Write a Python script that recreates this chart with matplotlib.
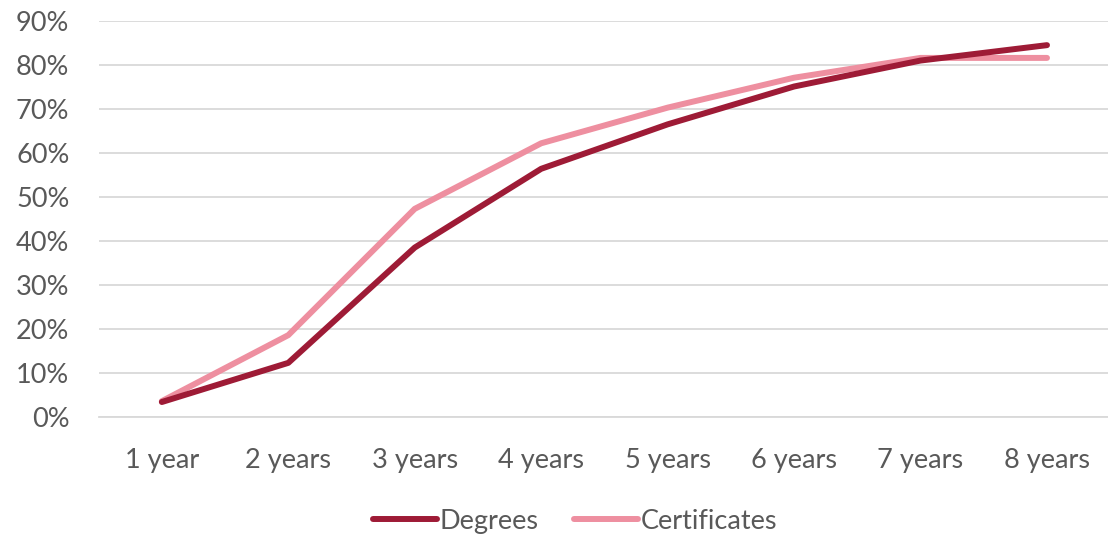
import matplotlib.pyplot as plt
from matplotlib.ticker import PercentFormatter

# values
years = ["1 year", "2 years", "3 years", "4 years", "5 years", "6 years", "7 years", "8 years"]
degrees = [3.4, 12.3, 38.5, 56.4, 66.5, 75.1, 81.0, 84.5]
certificates = [3.6, 18.6, 47.3, 62.2, 70.3, 77.1, 81.6, 81.6]

plt.rcParams['font.family'] = ['Lato', 'DejaVu Sans']
text_col = '#595959'
fs = 19.5

fig = plt.figure(figsize=(11.08, 5.37), dpi=100)
ax = fig.add_axes([0.089, 0.2235, 0.913, 0.7375])

x = list(range(len(years)))
ax.plot(x, degrees, color='#9E1B36', lw=4.3, solid_capstyle='round', label='Degrees', zorder=3)
ax.plot(x, certificates, color='#EE8FA0', lw=4.3, solid_capstyle='round', label='Certificates', zorder=2)

ax.set_xlim(-0.5, len(years) - 0.5)
ax.set_ylim(0, 90)
ax.set_yticks(range(0, 91, 10))
ax.yaxis.set_major_formatter(PercentFormatter(decimals=0))
ax.set_xticks(x)
ax.set_xticklabels(years)
ax.grid(axis='y', color='#d9d9d9', lw=1.3)
ax.set_axisbelow(True)
for s in ax.spines.values():
    s.set_visible(False)
ax.spines['bottom'].set_visible(True)
ax.spines['bottom'].set_color('#d9d9d9')
ax.spines['bottom'].set_linewidth(1.3)
ax.tick_params(axis='both', length=0, labelsize=fs, labelcolor=text_col)
ax.tick_params(axis='x', pad=22)
ax.tick_params(axis='y', pad=21)

leg = fig.legend(*ax.get_legend_handles_labels(), loc='center', bbox_to_anchor=(0.519, 0.029),
                 ncol=2, frameon=False, fontsize=fs, handlelength=2.35, handletextpad=0.1,
                 columnspacing=1.3)
for t in leg.get_texts():
    t.set_color(text_col)

fig.savefig('out.png', dpi=100)
